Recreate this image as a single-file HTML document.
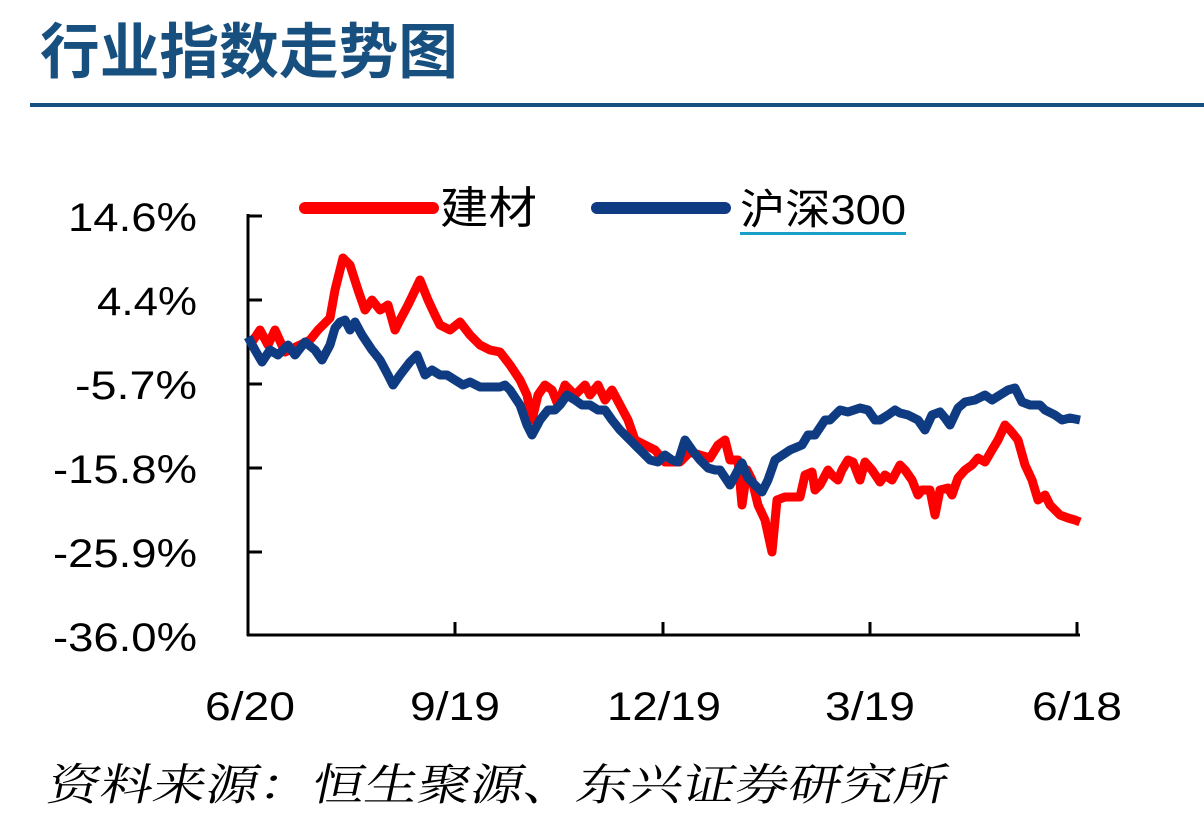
<!DOCTYPE html>
<html><head><meta charset="utf-8"><style>
body{margin:0;width:1204px;height:813px;background:#fff;overflow:hidden}
</style></head><body>
<svg width="1204" height="813" viewBox="0 0 1204 813" xmlns="http://www.w3.org/2000/svg">
<text x="40" y="73" font-family="Noto Sans CJK SC, sans-serif" font-weight="bold" font-size="60" fill="#17507f" textLength="418" lengthAdjust="spacingAndGlyphs">行业指数走势图</text>
<rect x="30" y="103" width="1174" height="4" fill="#17507f"/>
<g font-family="Liberation Sans, sans-serif" font-size="40" fill="#000" lengthAdjust="spacingAndGlyphs">
<text x="68" y="231" textLength="129" lengthAdjust="spacingAndGlyphs">14.6%</text>
<text x="97" y="315" textLength="100" lengthAdjust="spacingAndGlyphs">4.4%</text>
<text x="75" y="399" textLength="122" lengthAdjust="spacingAndGlyphs">-5.7%</text>
<text x="53" y="483" textLength="144" lengthAdjust="spacingAndGlyphs">-15.8%</text>
<text x="53" y="567" textLength="144" lengthAdjust="spacingAndGlyphs">-25.9%</text>
<text x="53" y="651" textLength="144" lengthAdjust="spacingAndGlyphs">-36.0%</text>
</g>
<g font-family="Liberation Sans, sans-serif" font-size="40" fill="#000">
<text x="205" y="720" textLength="90" lengthAdjust="spacingAndGlyphs">6/20</text>
<text x="410" y="720" textLength="90" lengthAdjust="spacingAndGlyphs">9/19</text>
<text x="607" y="720" textLength="114" lengthAdjust="spacingAndGlyphs">12/19</text>
<text x="825" y="720" textLength="90" lengthAdjust="spacingAndGlyphs">3/19</text>
<text x="1032" y="720" textLength="90" lengthAdjust="spacingAndGlyphs">6/18</text>
</g>
<g stroke="#000" stroke-width="3" fill="none">
<line x1="248" y1="214" x2="248" y2="636"/>
<line x1="247" y1="635" x2="1080" y2="635"/>
<line x1="248" y1="216" x2="262" y2="216"/>
<line x1="248" y1="300" x2="262" y2="300"/>
<line x1="248" y1="384" x2="262" y2="384"/>
<line x1="248" y1="468" x2="262" y2="468"/>
<line x1="248" y1="552" x2="262" y2="552"/>
<line x1="455" y1="622" x2="455" y2="635"/>
<line x1="663" y1="622" x2="663" y2="635"/>
<line x1="870" y1="622" x2="870" y2="635"/>
<line x1="1077" y1="622" x2="1077" y2="635"/>
</g>
<line x1="305" y1="208" x2="433" y2="208" stroke="#f00" stroke-width="12" stroke-linecap="round"/>
<text x="440" y="223" font-family="Noto Sans CJK SC, sans-serif" font-size="44" fill="#000" textLength="97" lengthAdjust="spacingAndGlyphs">建材</text>
<line x1="597" y1="208" x2="725" y2="208" stroke="#0f3b82" stroke-width="12" stroke-linecap="round"/>
<text x="740" y="224" font-family="Liberation Sans, Noto Sans CJK SC, sans-serif" font-size="42" fill="#000" textLength="166" lengthAdjust="spacingAndGlyphs">沪深300</text>
<rect x="740" y="232" width="166" height="3" fill="#1aa0c8"/>
<polyline fill="none" stroke="#f00" stroke-width="9" stroke-linejoin="round" points="250,345 260,330 268,345 275,330 285,352 300,345 310,340 318,330 330,318 335,290 343,258 350,265 358,290 365,310 372,300 380,310 388,305 395,330 400,320 408,305 420,280 428,300 435,315 440,325 450,330 460,322 470,335 480,345 490,350 500,352 510,365 520,380 527,395 532,420 538,395 545,385 552,390 558,405 565,385 575,395 585,385 590,395 598,385 605,400 612,390 620,405 628,420 635,440 645,445 655,450 665,462 680,462 690,452 700,455 710,458 718,445 725,440 730,460 738,460 742,505 747,470 752,480 758,505 765,520 772,552 777,500 785,497 800,497 805,475 812,472 815,490 820,485 828,470 832,475 838,480 842,470 848,460 853,462 860,480 865,462 872,470 880,482 885,475 892,480 900,465 905,470 912,480 918,495 922,490 930,490 935,515 940,490 948,488 952,495 958,478 965,470 972,465 978,458 985,462 992,450 998,440 1005,425 1010,430 1018,440 1025,465 1032,480 1038,500 1045,495 1050,505 1055,510 1060,515 1068,518 1075,520 1080,522"/>
<polyline fill="none" stroke="#0f3b82" stroke-width="9" stroke-linejoin="round" points="248,337 255,350 262,362 270,350 278,355 288,345 295,355 305,342 315,350 322,360 330,345 335,328 340,322 345,320 350,330 355,322 362,335 372,350 380,360 388,375 393,385 400,375 410,362 417,355 425,375 432,370 440,375 447,375 455,380 463,385 470,382 480,387 500,387 505,385 510,390 520,405 527,425 532,435 540,420 548,410 555,410 560,405 567,395 575,400 582,405 590,405 598,410 605,410 612,420 620,430 630,440 640,450 650,460 658,462 665,455 672,460 678,462 685,440 692,450 700,460 708,468 715,470 720,470 730,485 738,470 742,463 748,478 755,485 762,492 768,480 775,460 790,450 802,445 808,435 815,435 825,420 830,420 840,410 848,412 860,408 868,410 875,420 880,420 888,415 895,410 900,413 908,415 918,420 925,430 932,415 940,412 945,418 950,425 958,408 965,402 975,400 985,395 992,400 1000,395 1008,390 1015,388 1022,402 1030,405 1040,405 1045,410 1055,415 1062,420 1070,418 1080,420"/>
<text x="45" y="800" font-family="Noto Serif CJK SC, serif" font-size="44" fill="#000" transform="skewX(-12) translate(170,0)" textLength="900" lengthAdjust="spacingAndGlyphs">资料来源：恒生聚源、东兴证券研究所</text>
</svg>
</body></html>
